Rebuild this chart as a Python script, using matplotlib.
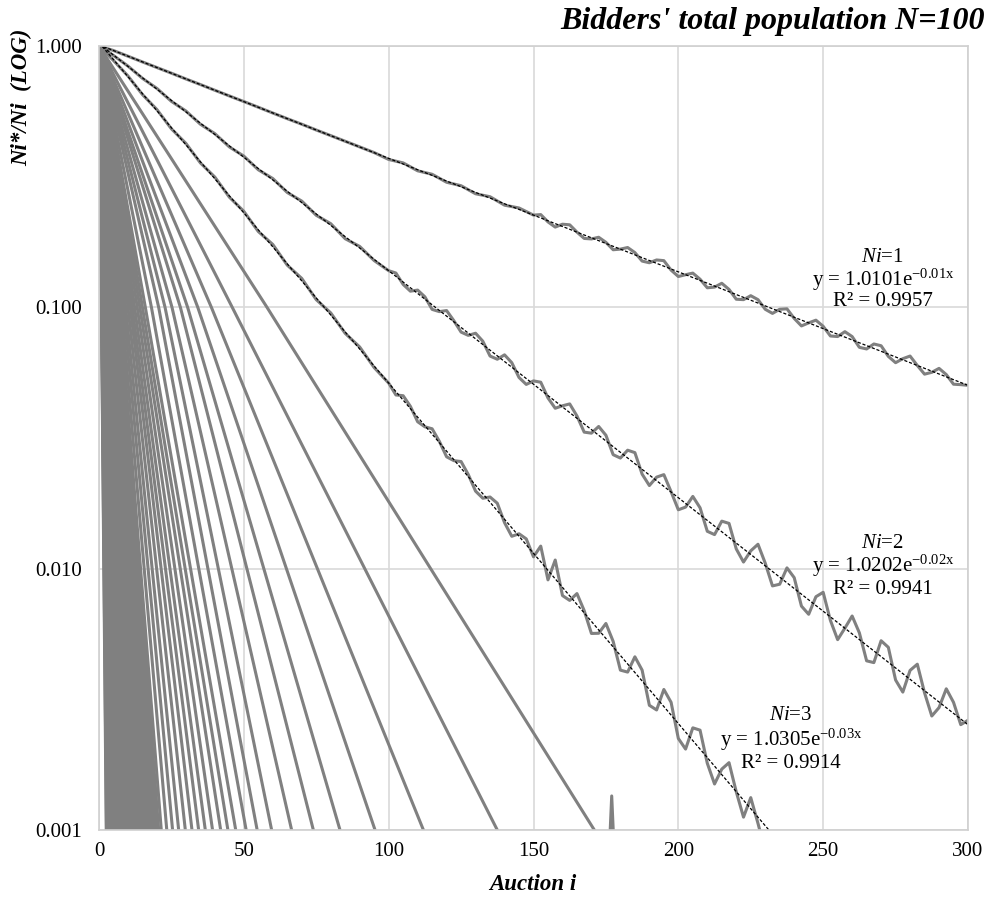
import numpy as np
import matplotlib.pyplot as plt
from matplotlib.ticker import FixedLocator, FuncFormatter

plt.rcParams['font.family'] = ['Liberation Serif', 'DejaVu Serif']
plt.rcParams['mathtext.fontset'] = 'custom'
plt.rcParams['mathtext.rm'] = 'Liberation Serif'
plt.rcParams['mathtext.it'] = 'Liberation Serif:italic'
plt.rcParams['mathtext.bf'] = 'Liberation Serif:bold'

# Ni=1..3 simulated ratios (coarse where smooth, finer where the curve wiggles)
x_ni1 = np.concatenate([np.arange(0, 150, 5), np.arange(150, 300.1, 2.5)])
y_ni1 = [1.000, 0.961, 0.914, 0.869, 0.827, 0.787, 0.748, 0.712, 0.677, 0.644,
         0.613, 0.583, 0.554, 0.527, 0.502, 0.477, 0.454, 0.432, 0.411, 0.391,
         0.368, 0.357, 0.333, 0.323, 0.301, 0.292, 0.272, 0.265, 0.246, 0.240,
         0.2254, 0.2264, 0.2123, 0.2028, 0.2080, 0.2069, 0.1940, 0.1835, 0.1827, 0.1854,
         0.1773, 0.1661, 0.1670, 0.1694, 0.1620, 0.1503, 0.1481, 0.1518, 0.1509, 0.1388,
         0.1312, 0.1333, 0.1352, 0.1281, 0.1188, 0.1195, 0.1236, 0.1171, 0.1074, 0.1070,
         0.1108, 0.1070, 0.0983, 0.0948, 0.0983, 0.0987, 0.0907, 0.0849, 0.0872, 0.0893,
         0.0846, 0.0777, 0.0773, 0.0807, 0.0773, 0.0703, 0.0693, 0.0724, 0.0713, 0.0649,
         0.0614, 0.0636, 0.0651, 0.0599, 0.0555, 0.0564, 0.0584, 0.0553, 0.0508, 0.0506,
         0.0503]

x_ni2 = np.concatenate([np.arange(0, 100, 5), np.arange(100, 300.1, 2.5)])
y_ni2 = [1.000, 0.920, 0.838, 0.752, 0.688, 0.614, 0.564, 0.502, 0.462, 0.411,
         0.379, 0.336, 0.311, 0.275, 0.255, 0.225, 0.209, 0.183, 0.171, 0.151,
         0.1381, 0.1353, 0.1224, 0.1153, 0.1164, 0.1097, 0.0982, 0.0963, 0.0972, 0.0889,
         0.0804, 0.0781, 0.0796, 0.0742, 0.0651, 0.0633, 0.0658, 0.0614, 0.0539, 0.0507,
         0.0523, 0.0517, 0.0450, 0.0411, 0.0420, 0.0427, 0.0384, 0.0333, 0.0330, 0.0350,
         0.0324, 0.0273, 0.0265, 0.0284, 0.0278, 0.0230, 0.0208, 0.0224, 0.0229, 0.0197,
         0.0168, 0.0172, 0.0189, 0.0171, 0.0139, 0.0135, 0.0152, 0.0149, 0.0119, 0.0106,
         0.0117, 0.0124, 0.0105, 0.00859, 0.00872, 0.01007, 0.00924, 0.00719, 0.00669, 0.00781,
         0.00812, 0.00634, 0.00535, 0.00592, 0.00659, 0.00568, 0.00444, 0.00437, 0.00530, 0.00500,
         0.00375, 0.00337, 0.00408, 0.00431, 0.00335, 0.00273, 0.00294, 0.00347, 0.00308, 0.00253,
         0.00263]

x_ni3 = np.concatenate([np.arange(0, 100, 5), np.arange(100, 230.1, 2.5)])
y_ni3 = [1.000, 0.880, 0.768, 0.652, 0.571, 0.482, 0.424, 0.357, 0.315, 0.264,
         0.233, 0.195, 0.174, 0.145, 0.129, 0.107, 0.0952, 0.0795, 0.0705, 0.0588,
         0.0513, 0.0462, 0.0459, 0.0418, 0.0365, 0.0349, 0.0343, 0.0307, 0.0268, 0.0259,
         0.0257, 0.0229, 0.0198, 0.0186, 0.0188, 0.0178, 0.0150, 0.0133, 0.0136, 0.0130,
         0.0111, 0.0122, 0.00906, 0.01079, 0.00789, 0.00756, 0.00803, 0.00691, 0.00565, 0.00566,
         0.00617, 0.00527, 0.00409, 0.00402, 0.00460, 0.00409, 0.00300, 0.00288, 0.00345, 0.00308,
         0.00224, 0.00204, 0.00246, 0.00241, 0.00180, 0.00150, 0.00171, 0.00181, 0.00140, 0.00112,
         0.00133, 0.00106, 0.00083]

# Ni=4..25: auction where ratio passes 0.1 and where it falls to 0.001
x_at_01 = [58, 46, 38.8, 34.1, 30.6, 28.1, 25.2, 22.8, 20.6, 18.1,
           16.0, 15.0, 14.1, 13.2, 12.3, 11.5, 10.8, 10.0, 9.2, 8.5, 7.8, 7.2]
x_at_0001 = [171, 137.5, 112, 95.3, 83.2, 74, 66.5, 59.6, 54.6, 50.8,
             47.2, 44.5, 42.0, 39.2, 36.7, 34.4, 32.1, 29.8, 27.5, 25.4, 23.4, 21.5]
# Ni=26..100: auction where ratio falls to 0.001
x_fan_end = [20.6, 19.9, 19.2, 18.6, 18.0, 17.4, 16.9, 16.4, 15.9, 15.5,
             15.1, 14.7, 14.3, 13.9, 13.6, 13.2, 12.9, 12.6, 12.3, 12.0,
             11.7, 11.5, 11.2, 11.0, 10.7, 10.5, 10.3, 10.0, 9.8, 9.6,
             9.4, 9.2, 9.0, 8.8, 8.6, 8.4, 8.2, 8.0, 7.8, 7.7,
             7.5, 7.3, 7.2, 7.0, 6.8, 6.7, 6.5, 6.4, 6.2, 6.1,
             5.9, 5.8, 5.6, 5.5, 5.3, 5.2, 5.0, 4.9, 4.7, 4.6,
             4.4, 4.3, 4.1, 4.0, 3.8, 3.7, 3.6, 3.4, 3.3, 3.2,
             3.0, 2.9, 2.8, 2.6, 2.5]
# isolated point of Ni=4 after it hits the floor
x_ni4_tail = [176.3, 177.0, 177.7]
y_ni4_tail = [0.0009, 0.00135, 0.0009]

# exponential trendlines shown on the chart
fit_ni = [1, 2, 3]
fit_a = [1.0101, 1.0202, 1.0305]
fit_b = [-0.01, -0.02, -0.03]
fit_r2 = [0.9957, 0.9941, 0.9914]
fit_xmax = [300, 300, 232]

gray = '#808080'
lw = 2.2

fig = plt.figure(figsize=(9.93, 9.01), dpi=100)
ax = fig.add_axes([99 / 993, 71 / 901, 869 / 993, 784 / 901])

for xe in x_fan_end:
    ax.plot([0, xe], [1.0, 0.001], color=gray, lw=lw)
for xm, xe in zip(x_at_01, x_at_0001):
    ax.plot([0, xm, xe], [1.0, 0.1, 0.001], color=gray, lw=lw)
ax.plot(x_ni4_tail, y_ni4_tail, color=gray, lw=lw)
ax.plot(x_ni3, y_ni3, color=gray, lw=lw)
ax.plot(x_ni2, y_ni2, color=gray, lw=lw)
ax.plot(x_ni1, y_ni1, color=gray, lw=lw)

for a, b, xmax in zip(fit_a, fit_b, fit_xmax):
    xf = np.linspace(0, xmax, 200)
    ax.plot(xf, a * np.exp(b * xf), color='black', lw=0.9, dashes=(2.5, 1.5))

ax.set_yscale('log')
ax.set_xlim(0, 300)
ax.set_ylim(0.001, 1.0)
ax.xaxis.set_major_locator(FixedLocator([0, 50, 100, 150, 200, 250, 300]))
ax.yaxis.set_major_locator(FixedLocator([0.001, 0.01, 0.1, 1.0]))
ax.yaxis.set_minor_locator(FixedLocator([]))
ax.yaxis.set_major_formatter(FuncFormatter(lambda v, p: '%.3f' % v))
ax.tick_params(axis='both', length=0, labelsize=15)
ax.tick_params(axis='y', pad=12)
ax.tick_params(axis='x', pad=9)
ax.grid(True, color='#d9d9d9', lw=1.2)
ax.set_axisbelow(True)
for s in ax.spines.values():
    s.set_color('#d0d0d0')
    s.set_linewidth(1.2)

# trendline labels
label_pos = [(270.6, 258, 280, 302), (270.6, 543, 566, 590), (238.9, 716, 740, 763)]
for ni, a, b, r2, (xl, p1, p2, p3) in zip(fit_ni, fit_a, fit_b, fit_r2, label_pos):
    for py, txt in [(p1, r'$\mathit{Ni}$=%d' % ni),
                    (p2, r'y = %.4fe$^{\mathrm{-%.2fx}}$' % (a, -b)),
                    (p3, 'R² = %.4f' % r2)]:
        fy = (830 - py) / 784
        ax.text(xl, 10 ** (3 * fy - 3), txt, ha='center', va='center', fontsize=15)

fig.text(985 / 993, 1 - 22 / 901, "Bidders' total population N=100", ha='right',
         va='center', fontsize=23, fontweight='bold', fontstyle='italic')
fig.text(533 / 993, 1 - 884 / 901, 'Auction i', ha='center', va='center',
         fontsize=16.5, fontweight='bold', fontstyle='italic')
fig.text(22 / 993, 1 - 97 / 901, 'Ni*/Ni  (LOG)', ha='center', va='center', rotation=90,
         fontsize=16.5, fontweight='bold', fontstyle='italic')

fig.savefig('out.png', dpi=100)
